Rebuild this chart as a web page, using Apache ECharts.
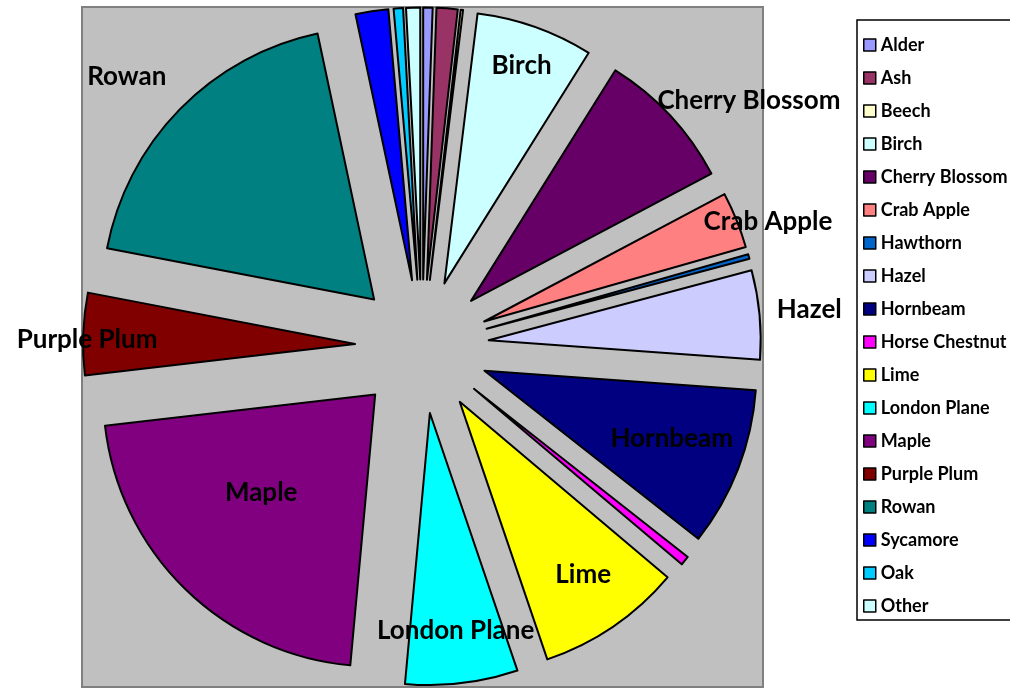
<!DOCTYPE html>
<html>
<head>
<meta charset="utf-8">
<script src="https://cdn.jsdelivr.net/npm/echarts@6/dist/echarts.min.js"></script>
<style>
  html, body { margin: 0; background: #fff; }
  #chart { width: 1010px; height: 688px; }
</style>
</head>
<body>
<div id="chart"></div>
<script>
// tree counts, in the order they go round the pie (clockwise from 12 o'clock)
const trees = ['Alder', 'Ash', 'Beech', 'Birch', 'Cherry Blossom', 'Crab Apple', 'Hawthorn', 'Hazel',
  'Hornbeam', 'Horse Chestnut', 'Lime', 'London Plane', 'Maple', 'Purple Plum', 'Rowan',
  'Sycamore', 'Oak', 'Other'];
const counts = [4, 9, 1, 50, 60, 24, 2, 38, 68, 4, 62, 48, 156, 35, 134, 14, 4, 6];

const colors = ['#9999ff', '#993366', '#ffffcc', '#ccffff', '#660066', '#ff8080', '#0066cc', '#ccccff',
  '#000080', '#ff00ff', '#ffff00', '#00ffff', '#800080', '#800000', '#008080',
  '#0000ff', '#00ccff', '#ccffff'];

// where the slice names sit: distance from pie centre and a small turn off the slice middle
// (0 distance = no label, as in the original)
const labelDist = [0, 0, 0, 298, 409, 368, 0, 389, 266, 0, 279, 286, 217, 335, 400, 0, 0, 0];
const labelTurn = [0, 0, 0, 0, 6, 2, 0, 0, -1, 0, -1, 0, 3.5, -1, -2, 0, 0, 0];

const cx = 422, cy = 346.5;

// middle angle of every slice, clockwise from the top
const total = counts.reduce((a, b) => a + b, 0);
let acc = 0;
const mids = counts.map(v => {
  const m = (acc + v / 2) / total * 360;
  acc += v;
  return m;
});

const FONT = 'Lato';

const option = {
  animation: false,
  color: colors,
  graphic: [
    {
      type: 'rect', z: 0, silent: true,
      shape: { x: 82, y: 7, width: 681, height: 680 },
      style: { fill: '#c0c0c0', stroke: '#808080', lineWidth: 2 }
    },
    {
      type: 'rect', z: 0, silent: true,
      shape: { x: 857, y: 20, width: 200, height: 600 },
      style: { fill: '#fff', stroke: '#000', lineWidth: 1.5 }
    }
  ],
  legend: {
    orient: 'vertical',
    left: 863,
    top: 36,
    padding: 0,
    icon: 'rect',
    itemWidth: 12,
    itemHeight: 12,
    itemGap: 15,
    data: trees,
    itemStyle: { borderColor: '#000', borderWidth: 1.5 },
    textStyle: {
      fontFamily: FONT, fontWeight: 'bold', fontSize: 18, lineHeight: 18, color: '#000'
    }
  },
  series: [
    {
      // the exploded slices
      type: 'pie',
      z: 2,
      center: [cx, cy],
      radius: 272,
      startAngle: 90,
      clockwise: true,
      selectedMode: 'multiple',
      selectedOffset: 67,
      emphasis: { disabled: true },
      itemStyle: { borderColor: '#000', borderWidth: 2 },
      select: { itemStyle: { borderColor: '#000', borderWidth: 2 } },
      label: { show: false },
      labelLine: { show: false },
      data: trees.map((name, i) => ({ name: name, value: counts[i], selected: true }))
    },
    {
      // same pie again, invisible, only to carry the slice names
      type: 'pie',
      z: 3,
      silent: true,
      center: [cx, cy],
      radius: 272,
      startAngle: 90,
      clockwise: true,
      avoidLabelOverlap: false,
      minShowLabelAngle: 0,
      emphasis: { disabled: true },
      itemStyle: { color: 'rgba(0,0,0,0)', borderWidth: 0 },
      label: {
        position: 'inside',
        formatter: '{b}',
        fontFamily: FONT,
        fontWeight: 'bold',
        fontSize: 26,
        color: '#000'
      },
      labelLine: { show: false },
      labelLayout: function (params) {
        const i = params.dataIndex;
        if (!labelDist[i]) return {};
        const a = (mids[i] + labelTurn[i]) * Math.PI / 180;
        return {
          x: cx + labelDist[i] * Math.sin(a),
          y: cy - labelDist[i] * Math.cos(a),
          align: 'center',
          verticalAlign: 'middle'
        };
      },
      data: trees.map((name, i) => ({
        name: name,
        value: counts[i],
        label: { show: labelDist[i] > 0 }
      }))
    }
  ]
};

const myChart = echarts.init(document.getElementById('chart'));
myChart.setOption(option);
</script>
</body>
</html>
